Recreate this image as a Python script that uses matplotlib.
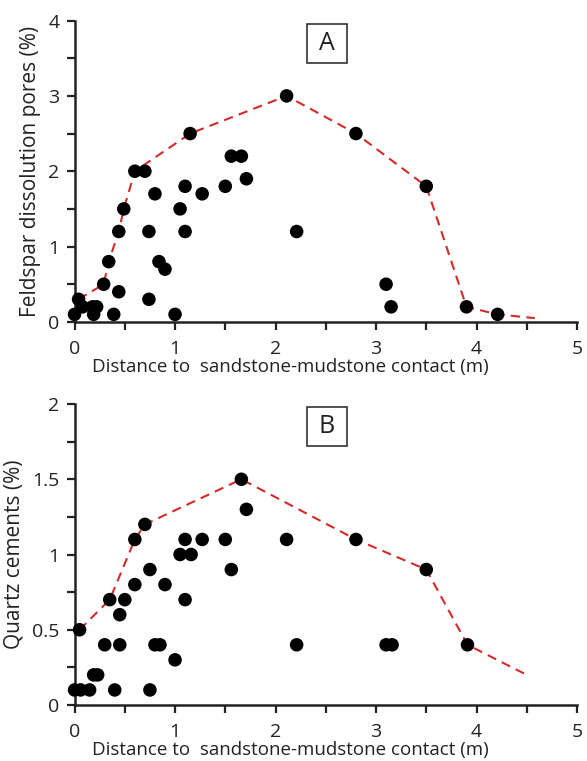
import matplotlib
matplotlib.use("Agg")
import matplotlib.pyplot as plt
from matplotlib.patches import Rectangle
from matplotlib.ticker import MultipleLocator, FormatStrFormatter

plt.rcParams['font.family'] = ['Open Sans', 'DejaVu Sans']

# Panel A: feldspar dissolution pores (%) vs distance (m)
a_dist = [0.00, 0.04, 0.08, 0.18, 0.22, 0.19, 0.29, 0.34, 0.39, 0.44, 0.44, 0.49,
          0.60, 0.70, 0.74, 0.74, 0.80, 0.84, 0.90, 1.00, 1.05, 1.10, 1.10, 1.15,
          1.27, 1.50, 1.56, 1.66, 1.71, 2.11, 2.21, 2.80, 3.10, 3.15, 3.50, 3.90, 4.21]
a_pores = [0.1, 0.3, 0.2, 0.2, 0.2, 0.1, 0.5, 0.8, 0.1, 0.4, 1.2, 1.5,
           2.0, 2.0, 1.2, 0.3, 1.7, 0.8, 0.7, 0.1, 1.5, 1.8, 1.2, 2.5,
           1.7, 1.8, 2.2, 2.2, 1.9, 3.0, 1.2, 2.5, 0.5, 0.2, 1.8, 0.2, 0.1]
a_env_dist = [0.04, 0.29, 0.34, 0.44, 0.49, 0.60, 1.15, 2.11, 2.80, 3.50, 3.90, 4.21, 4.58]
a_env_val = [0.30, 0.50, 0.80, 1.20, 1.50, 2.00, 2.50, 3.00, 2.50, 1.80, 0.20, 0.10, 0.05]

# Panel B: quartz cements (%) vs distance (m)
b_dist = [0.00, 0.06, 0.15, 0.05, 0.19, 0.23, 0.30, 0.35, 0.40, 0.45, 0.45, 0.50,
          0.60, 0.60, 0.70, 0.75, 0.75, 0.80, 0.85, 0.90, 1.00, 1.05, 1.10, 1.10,
          1.16, 1.27, 1.50, 1.56, 1.66, 1.71, 2.11, 2.21, 2.80, 3.10, 3.16, 3.50, 3.91]
b_quartz = [0.1, 0.1, 0.1, 0.5, 0.2, 0.2, 0.4, 0.7, 0.1, 0.6, 0.4, 0.7,
            0.8, 1.1, 1.2, 0.9, 0.1, 0.4, 0.4, 0.8, 0.3, 1.0, 1.1, 0.7,
            1.0, 1.1, 1.1, 0.9, 1.5, 1.3, 1.1, 0.4, 1.1, 0.4, 0.4, 0.9, 0.4]
b_env_dist = [0.05, 0.35, 0.60, 0.70, 1.66, 2.80, 3.50, 3.91, 4.50]
b_env_val = [0.50, 0.70, 1.10, 1.20, 1.50, 1.10, 0.90, 0.40, 0.20]

x_label = "Distance to  sandstone-mudstone contact (m)"

fig = plt.figure(figsize=(5.87, 7.61), dpi=100)
ax_a = fig.add_axes([0.127, 0.577, 0.856, 0.396])
ax_b = fig.add_axes([0.127, 0.0736, 0.856, 0.3955])

panels = [
    (ax_a, a_dist, a_pores, a_env_dist, a_env_val, 4, 0.5, 1,
     "Feldspar dissolution pores (%)", "A"),
    (ax_b, b_dist, b_quartz, b_env_dist, b_env_val, 2, 0.25, 0.5,
     "Quartz cements (%)", "B"),
]

ink = '#222222'
for ax, xd, yd, ex, ey, ymax, yminor, ymajor, ylab, tag in panels:
    ax.plot(ex, ey, linestyle=(0, (4.5, 3)), color='#d42a2a', lw=1.5, zorder=2)
    ax.scatter(xd, yd, s=95, color='black', edgecolors='none', zorder=3,
               clip_on=False)
    ax.set_xlim(0, 5)
    ax.set_ylim(0, ymax)
    ax.xaxis.set_major_locator(MultipleLocator(1))
    ax.xaxis.set_minor_locator(MultipleLocator(0.5))
    ax.yaxis.set_major_locator(MultipleLocator(ymajor))
    ax.yaxis.set_minor_locator(MultipleLocator(yminor))
    ax.yaxis.set_major_formatter(FormatStrFormatter('%g'))
    ax.tick_params(which='both', direction='out', width=1.6, color=ink,
                   length=6, labelsize=14, labelcolor=ink)
    ax.tick_params(axis='x', pad=7)
    ax.tick_params(axis='y', pad=5)
    for side in ('top', 'right'):
        ax.spines[side].set_visible(False)
    for side in ('left', 'bottom'):
        ax.spines[side].set_linewidth(1.8)
        ax.spines[side].set_color(ink)
    ax.set_xlabel(x_label, fontsize=13.5, labelpad=0, color=ink, x=0.43)
    ax.set_ylabel(ylab, fontsize=15, labelpad=5, color=ink)

    # panel tag in a framed box near the top centre
    ax.add_patch(Rectangle((0.463, 0.86), 0.079, 0.13, transform=ax.transAxes,
                           fc='white', ec='#333333', lw=1.2, zorder=4,
                           clip_on=False))
    ax.text(0.5025, 0.925, tag, transform=ax.transAxes, fontsize=18,
            ha='center', va='center', color=ink, zorder=5)

fig.savefig("out.png", dpi=100)
